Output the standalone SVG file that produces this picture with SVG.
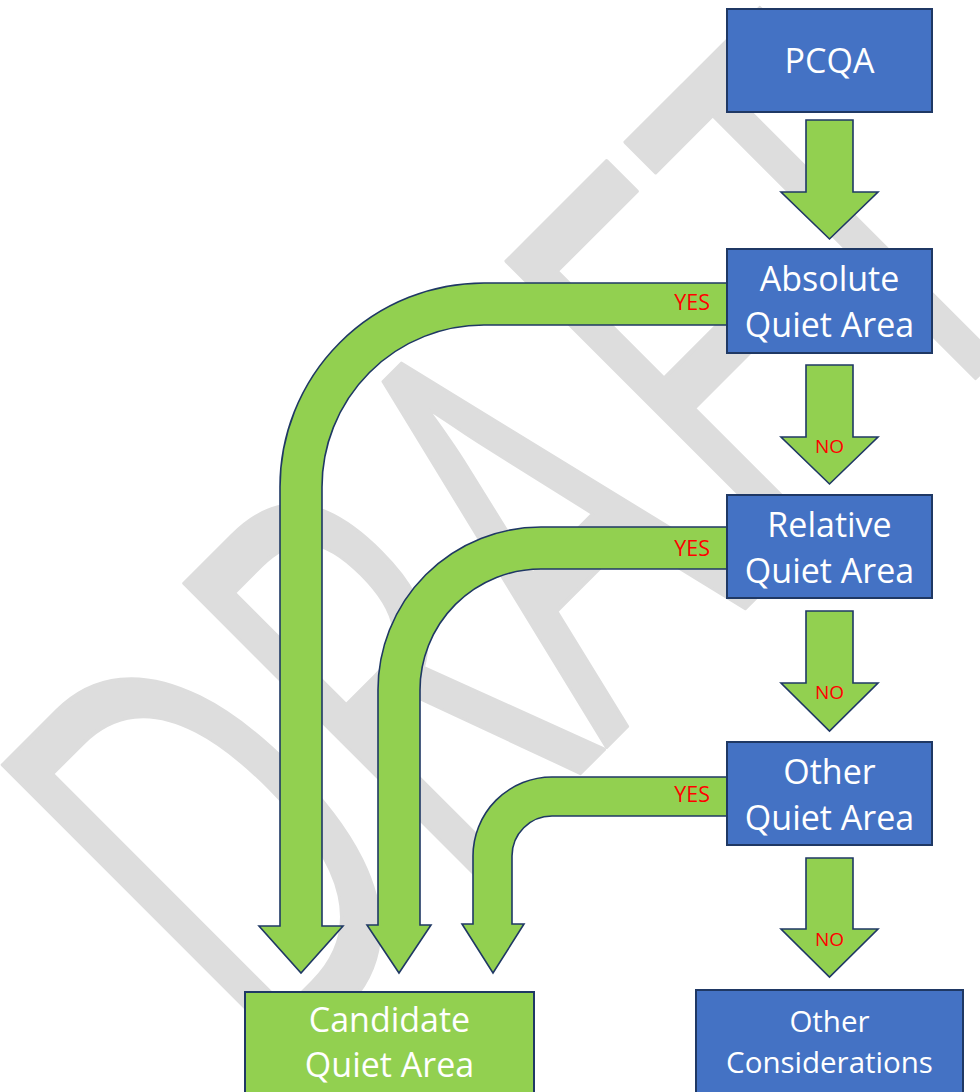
<svg xmlns="http://www.w3.org/2000/svg" width="980" height="1092" viewBox="0 0 980 1092">
<style>
.box-blue{fill:#4472c4;stroke:#1f3864;stroke-width:2}
.box-green{fill:#92d050;stroke:#1f3864;stroke-width:2}
.arrow{fill:#92d050;stroke:#1f3864;stroke-width:1.6;stroke-linejoin:miter}
.lbl{font-family:"Open Sans","Liberation Sans",sans-serif;font-size:34px;fill:#ffffff;text-anchor:middle}
.lbl-s{font-family:"Open Sans","Liberation Sans",sans-serif;font-size:29.5px;fill:#ffffff;text-anchor:middle}
.yes{font-family:"Open Sans","Liberation Sans",sans-serif;font-size:21.5px;fill:#ff0000;text-anchor:end}
.no{font-family:"Open Sans","Liberation Sans",sans-serif;font-size:19px;fill:#ff0000;text-anchor:middle}
.wm{font-family:"Open Sans","Liberation Sans",sans-serif;font-size:580px;fill:#dddddd;stroke:#dddddd;stroke-width:4;stroke-linejoin:round}
</style>
<rect width="980" height="1092" fill="#ffffff"/>
<g id="watermark" transform="rotate(-45) scale(0.62,1)">
<text class="wm" x="-927 -513 -161 222 545" y="957">DRAFT</text>
</g>
<g id="connectors">
<path class="arrow" d="M727 283 L484 283 A204 204 0 0 0 280 487 L280 926 L259 926 L301 973 L343 926 L322 926 L322 487 A162 162 0 0 1 484 325 L727 325 Z"/>
<path class="arrow" d="M727 527 L541 527 A163 163 0 0 0 378 690 L378 925 L367 925 L399 973 L431 925 L420 925 L420 690 A121 121 0 0 1 541 569 L727 569 Z"/>
<path class="arrow" d="M727 777 L552 777 A79 79 0 0 0 473 856 L473 924 L462 924 L493 973 L524 924 L512 924 L512 856 A40 40 0 0 1 552 816 L727 816 Z"/>
<path class="arrow" d="M806 120 L853 120 L853 192 L878 192 L829.5 239 L781 192 L806 192 Z"/>
<path class="arrow" d="M806 365 L853 365 L853 437 L878 437 L829.5 484 L781 437 L806 437 Z"/>
<path class="arrow" d="M806 611 L853 611 L853 683 L878 683 L829.5 731 L781 683 L806 683 Z"/>
<path class="arrow" d="M806 858 L853 858 L853 929 L878 929 L829.5 977 L781 929 L806 929 Z"/>
<text class="yes" x="710" y="310">YES</text>
<text class="yes" x="710" y="556">YES</text>
<text class="yes" x="710" y="802">YES</text>
<text class="no" x="829.5" y="453">NO</text>
<text class="no" x="829.5" y="699">NO</text>
<text class="no" x="829.5" y="946">NO</text>
</g>
<g id="pcqa">
<rect class="box-blue" x="727" y="9" width="205" height="103"/>
<text class="lbl" x="829.5" y="73">PCQA</text>
</g>
<g id="absolute">
<rect class="box-blue" x="727" y="249" width="205" height="104"/>
<text class="lbl" x="829.5" y="291">Absolute</text>
<text class="lbl" x="829.5" y="337">Quiet Area</text>
</g>
<g id="relative">
<rect class="box-blue" x="727" y="495" width="205" height="103"/>
<text class="lbl" x="829.5" y="537">Relative</text>
<text class="lbl" x="829.5" y="583">Quiet Area</text>
</g>
<g id="other">
<rect class="box-blue" x="727" y="742" width="205" height="103"/>
<text class="lbl" x="829.5" y="784">Other</text>
<text class="lbl" x="829.5" y="830">Quiet Area</text>
</g>
<g id="candidate">
<rect class="box-green" x="245" y="992" width="289" height="110"/>
<text class="lbl" x="389.5" y="1032">Candidate</text>
<text class="lbl" x="389.5" y="1077">Quiet Area</text>
</g>
<g id="other-considerations">
<rect class="box-blue" x="696" y="990" width="267" height="112"/>
<text class="lbl-s" x="829.5" y="1032">Other</text>
<text class="lbl-s" x="829.5" y="1073">Considerations</text>
</g>
</svg>
